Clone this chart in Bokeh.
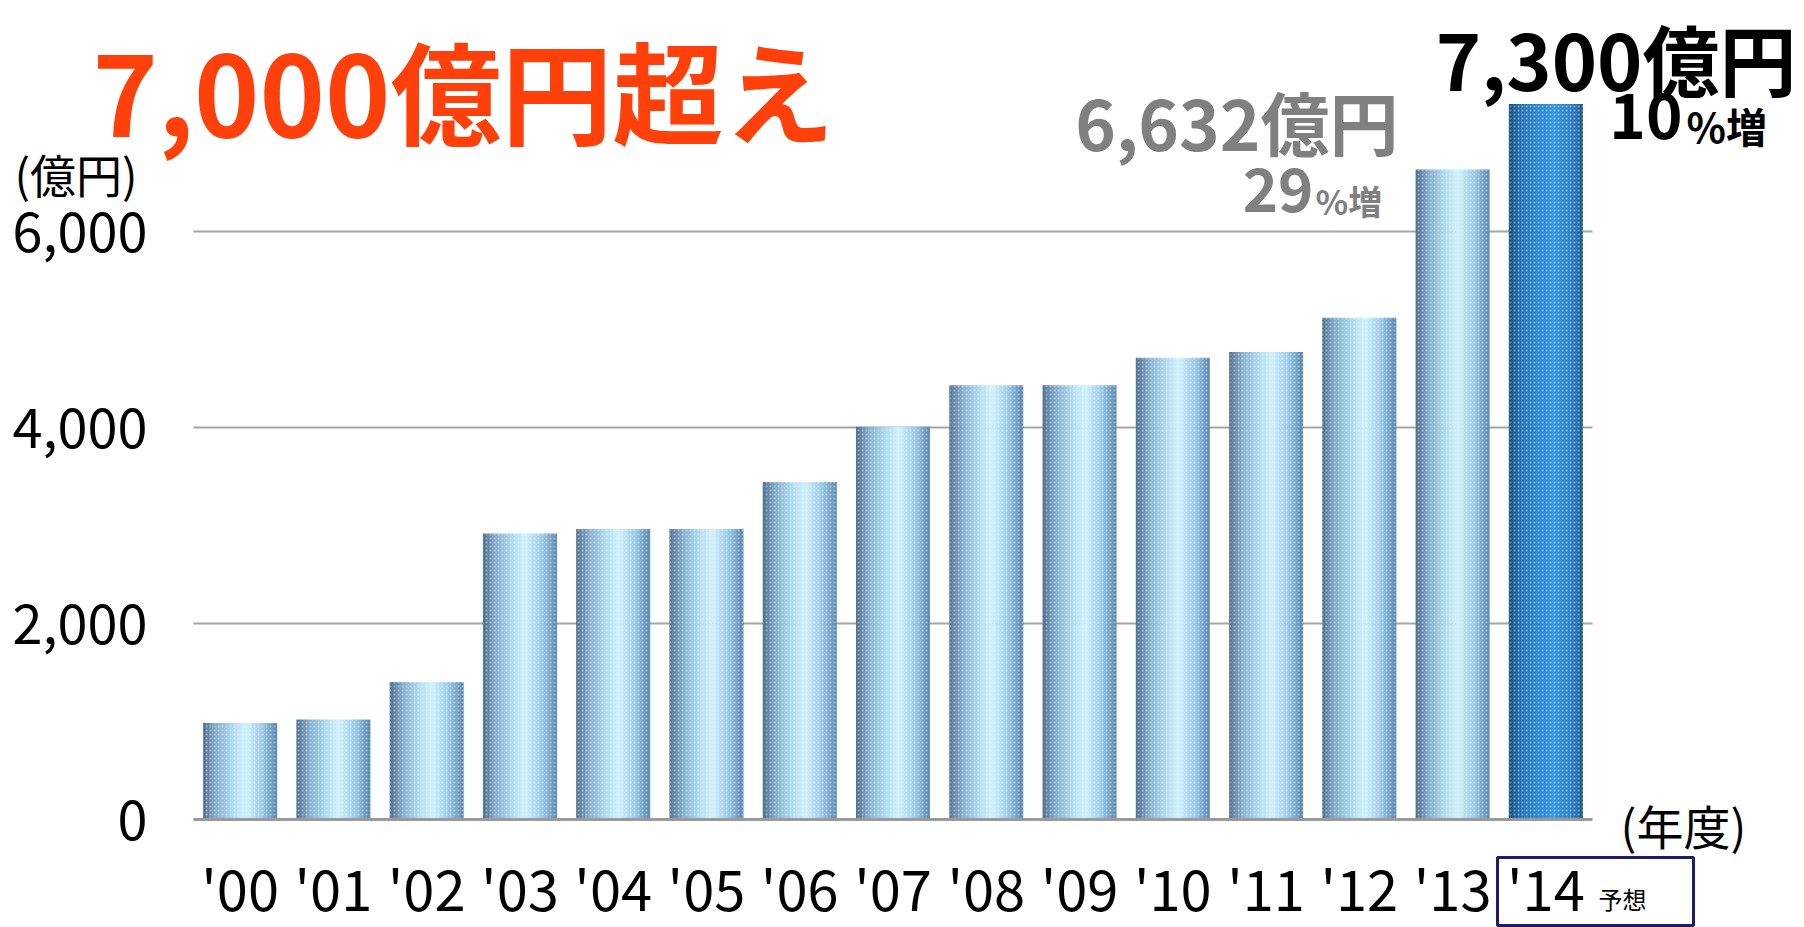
import numpy as np
from bokeh.plotting import figure
from bokeh.models import (ColumnDataSource, FixedTicker, NumeralTickFormatter, Label,
                          BoxAnnotation, Range1d)
from bokeh.embed import file_html
from bokeh.resources import INLINE

# ---------------- data ----------------
years = ["'00", "'01", "'02", "'03", "'04", "'05", "'06", "'07",
         "'08", "'09", "'10", "'11", "'12", "'13", "'14"]
sales = [984, 1020, 1402, 2918, 2965, 2965, 3445, 4008,
         4430, 4430, 4711, 4770, 5121, 6632, 7300]
y_ticks = [0, 2000, 4000, 6000]
grid_ticks = [2000, 4000, 6000]
growth_13 = 29
growth_14 = 10
title_text = "7,000億円超え"
unit_label = "(億円)"
year_label = "(年度)"
forecast_label = "予想"

FONT = "Noto Sans CJK JP"
W, H = 1804, 927

# layout of the plotting area in canvas pixels
AX_L, AX_R, AX_B = 193, 1592, 819
unit_x = (AX_R - AX_L) / len(years)
px_per_val = 0.098
x0 = -0.5 - AX_L / unit_x
x1 = x0 + W / unit_x
y1 = AX_B / px_per_val
y0 = y1 - H / px_per_val

idx = list(range(len(years)))

# ---------------- figure ----------------
p = figure(width=W, height=H, x_range=Range1d(x0, x1), y_range=Range1d(y0, y1),
           output_backend="svg", toolbar_location=None,
           min_border_left=0, min_border_right=0, min_border_top=0, min_border_bottom=0)
p.outline_line_color = None
p.background_fill_color = "white"
p.border_fill_color = "white"
p.xgrid.visible = False
p.ygrid.visible = False

p.yaxis.fixed_location = -0.5
p.yaxis.ticker = FixedTicker(ticks=y_ticks)
p.yaxis.formatter = NumeralTickFormatter(format="0,0")
p.yaxis.axis_line_color = None
p.yaxis.major_tick_line_color = None
p.yaxis.minor_tick_line_color = None
p.yaxis.major_label_text_font = FONT
p.yaxis.major_label_text_font_size = "54px"
p.yaxis.major_label_text_color = "black"
p.yaxis.major_label_standoff = 40

p.xaxis.fixed_location = 0
p.xaxis.bounds = (-0.5, len(years) - 0.5)
p.xaxis.ticker = FixedTicker(ticks=idx)
p.xaxis.major_label_overrides = {i: y for i, y in zip(idx, years)}
p.xaxis.axis_line_color = "#9a9a9a"
p.xaxis.axis_line_width = 3
p.xaxis.major_tick_line_color = None
p.xaxis.minor_tick_line_color = None
p.xaxis.major_label_text_font = FONT
p.xaxis.major_label_text_font_size = "56px"
p.xaxis.major_label_text_color = "black"
p.xaxis.major_label_standoff = 20

# gridlines (restricted to the bar area)
gsrc = ColumnDataSource(dict(y=grid_ticks, xs=[-0.5] * len(grid_ticks),
                             xe=[len(years) - 0.5] * len(grid_ticks)))
p.segment(x0="xs", x1="xe", y0="y", y1="y", source=gsrc,
          line_color="#a6a6a6", line_width=2)

# ---------------- bars (cylinder shading via strips) ----------------
BAR_W = 0.79
N = 24
light_stops = [(0.0, "#4f6e8e"), (0.18, "#86aecd"), (0.42, "#b4def2"),
               (0.58, "#cef2fc"), (0.8, "#9ccae8"), (1.0, "#5986ae")]
dark_stops = [(0.0, "#164e7e"), (0.15, "#2370b0"), (0.45, "#2e8ad0"),
              (0.6, "#3a98dc"), (0.85, "#2a7ec0"), (1.0, "#1a5a90")]


def hex2rgb(h):
    return np.array([int(h[i:i + 2], 16) for i in (1, 3, 5)], dtype=float)


def interp(stops, t):
    for (t0, c0), (t1, c1) in zip(stops[:-1], stops[1:]):
        if t0 <= t <= t1:
            f = (t - t0) / (t1 - t0)
            c = hex2rgb(c0) * (1 - f) + hex2rgb(c1) * f
            return "#%02x%02x%02x" % tuple(int(round(v)) for v in c)
    return stops[-1][1]


last = len(years) - 1
for i in range(N):
    t = (i + 0.5) / N
    off = -BAR_W / 2 + t * BAR_W
    colors = [interp(dark_stops if k == last else light_stops, t) for k in idx]
    src = ColumnDataSource(dict(x=[k + off for k in idx], value=sales, color=colors))
    p.vbar(x="x", top="value", bottom=0, width=BAR_W / N * 1.12,
           fill_color="color", line_color=None, source=src)

main_src = ColumnDataSource(dict(x=idx, value=sales))
p.vbar(x="x", top="value", bottom=0, width=BAR_W, source=main_src,
       fill_alpha=0, line_color=None, hatch_pattern="dot", hatch_color="white",
       hatch_alpha=0.4, hatch_scale=4, hatch_weight=1)

# ---------------- texts ----------------
BASE_SHIFT = 0.43  # correction between requested and drawn alphabetic baseline


def lab(X, Y, text, size, color="black", bold=False, align="left", baseline="alphabetic"):
    y = H - Y
    if baseline == "alphabetic":
        y += BASE_SHIFT * size
    p.add_layout(Label(x=X, y=y, x_units="screen", y_units="screen",
                       text=text, text_font=FONT, text_font_size=f"{size}px",
                       text_font_style="bold" if bold else "normal",
                       text_color=color, text_align=align, text_baseline=baseline))


lab(92, 136, title_text, 111, color="#ff400a", bold=True)
lab(14, 172, unit_label, 46, baseline="middle")
lab(1398, 150, f"{sales[-2]:,}億円", 69, color="#808080", bold=True, align="right")
lab(1313, 215, f"{growth_13}", 60, color="#808080", bold=True, align="right")
lab(1315, 215, "%増", 34, color="#808080", bold=True)
lab(1796, 90, f"{sales[-1]:,}億円", 77, bold=True, align="right")
lab(1682, 142, f"{growth_14}", 62, bold=True, align="right")
lab(1686, 142, "%増", 41, bold=True)
lab(1620, 824, year_label, 47, baseline="middle")
lab(1598, 908, forecast_label, 24)

p.add_layout(BoxAnnotation(left=1497, right=1693, top=H - 857, bottom=H - 925,
                           left_units="screen", right_units="screen",
                           top_units="screen", bottom_units="screen",
                           fill_alpha=0, line_color="#1c1c6e", line_alpha=1.0,
                           line_width=3))

open("out.html", "w").write(file_html(p, INLINE))
